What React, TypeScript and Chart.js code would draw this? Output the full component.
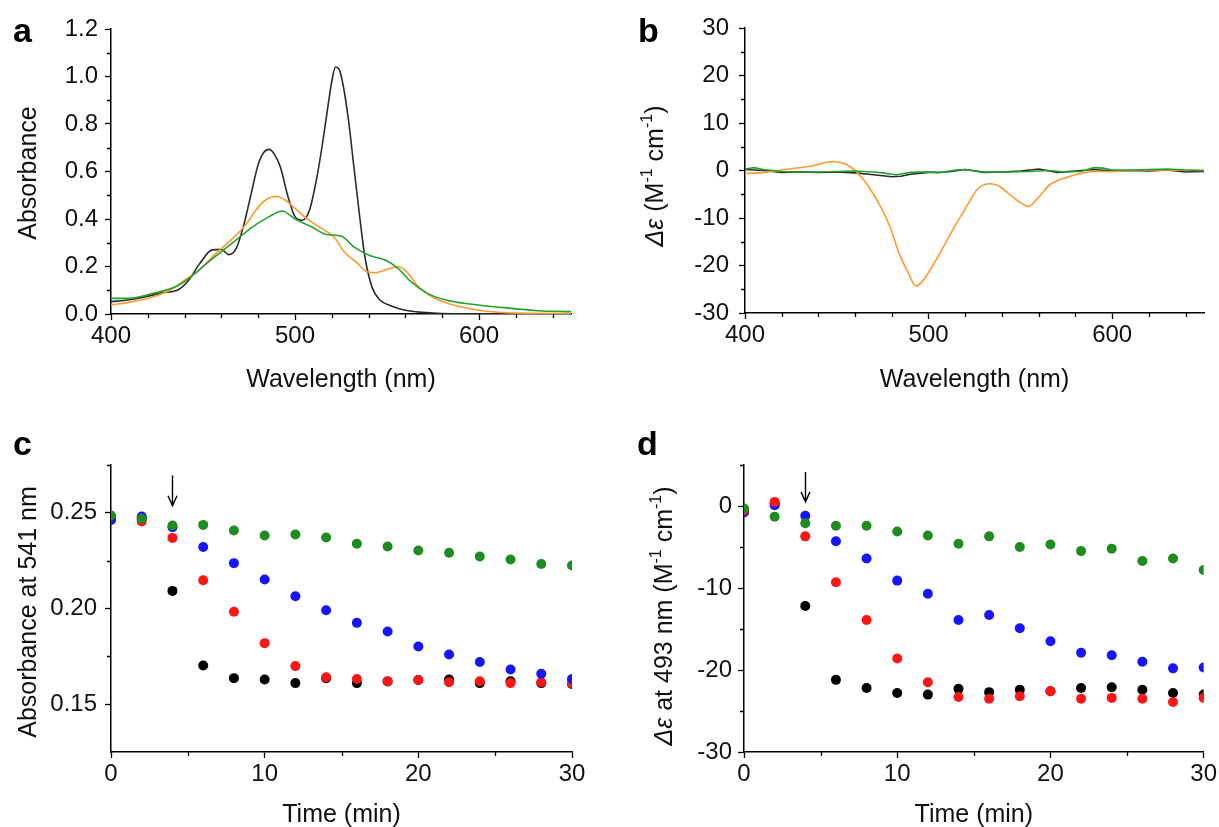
import React, { useEffect, useRef } from 'react';
import { Chart, registerables } from 'chart.js';

Chart.register(...registerables);

const FONT = '"Liberation Sans", Arial, Helvetica, sans-serif';

// ---------- Panel a: absorbance spectra ----------
const aBlackX = [400, 410, 420, 428, 436, 442, 448, 455, 460, 464, 468, 472, 476, 480, 483, 486, 489, 492, 496, 500, 504, 508, 512, 515, 518, 520, 522, 524, 526, 529, 532, 535, 538, 542, 546, 552, 560, 575, 600, 650];
const aBlackY = [0.052, 0.06, 0.075, 0.09, 0.10, 0.14, 0.21, 0.27, 0.272, 0.25, 0.275, 0.37, 0.50, 0.63, 0.68, 0.693, 0.67, 0.62, 0.50, 0.41, 0.395, 0.44, 0.58, 0.72, 0.88, 0.98, 1.04, 1.03, 0.97, 0.82, 0.62, 0.42, 0.24, 0.11, 0.06, 0.035, 0.016, 0.004, 0.0, 0.0];
const aOrangeX = [400, 410, 423, 432, 440, 448, 456, 465, 473, 480, 485, 490, 495, 500, 505, 513, 521, 527, 534, 539, 544, 550, 556, 561, 567, 576, 586, 599, 612, 630, 650];
const aOrangeY = [0.038, 0.05, 0.073, 0.10, 0.143, 0.185, 0.248, 0.31, 0.374, 0.45, 0.485, 0.496, 0.478, 0.445, 0.41, 0.367, 0.325, 0.26, 0.213, 0.178, 0.174, 0.188, 0.199, 0.175, 0.115, 0.066, 0.038, 0.017, 0.006, 0.003, 0.002];
const aGreenX = [400, 410, 423, 436, 444, 452, 461, 469, 477, 486, 493, 500, 509, 517, 525, 532, 540, 549, 556, 563, 572, 582, 595, 612, 632, 650];
const aGreenY = [0.066, 0.066, 0.087, 0.118, 0.16, 0.213, 0.269, 0.318, 0.367, 0.41, 0.434, 0.40, 0.367, 0.335, 0.328, 0.283, 0.248, 0.227, 0.192, 0.136, 0.087, 0.059, 0.042, 0.028, 0.014, 0.01];

// ---------- Panel b: CD spectra ----------
const bOrangeX = [400, 411, 424, 437, 448, 455, 461, 467, 474, 479, 484, 489, 493, 496, 502, 508, 514, 521, 526, 533, 538, 545, 551, 554, 560, 566, 575, 581, 590, 601, 614, 627, 650];
const bOrangeY = [-0.6, -0.4, 0.3, 1.0, 1.9, 1.3, -0.4, -3.2, -7.7, -11.9, -17.5, -21.6, -24.3, -23.6, -20.2, -16.1, -11.9, -7.4, -4.2, -2.8, -3.2, -5.3, -7.0, -7.6, -5.6, -3.0, -1.5, -0.8, -0.2, -0.2, 0.1, 0.1, 0.0];
const bBlackX = [400, 410, 420, 430, 440, 450, 460, 470, 475, 480, 485, 490, 500, 510, 520, 530, 540, 550, 560, 570, 580, 590, 600, 610, 620, 630, 640, 650];
const bBlackY = [0.2, 0.0, -0.4, -0.3, -0.4, -0.3, -0.5, -0.9, -1.1, -1.3, -1.2, -0.8, -0.4, -0.3, 0.2, -0.4, -0.3, -0.1, 0.3, -0.4, -0.1, 0.2, -0.1, 0.0, -0.1, 0.1, -0.3, -0.2];
const bGreenX = [400, 405, 410, 420, 430, 440, 450, 460, 470, 475, 480, 483, 490, 500, 505, 515, 520, 530, 545, 555, 565, 575, 583, 590, 595, 600, 610, 620, 630, 640, 650];
const bGreenY = [0.3, 0.6, 0.2, -0.2, -0.3, -0.3, -0.2, -0.1, -0.3, -0.5, -0.8, -0.9, -0.4, -0.3, -0.5, 0.1, 0.2, -0.3, -0.3, -0.2, 0.0, -0.3, -0.2, 0.6, 0.5, 0.1, 0.1, 0.2, 0.3, 0.1, 0.0];

// ---------- Panels c, d: time courses ----------
const times = [0, 2, 4, 6, 8, 10, 12, 14, 16, 18, 20, 22, 24, 26, 28, 30];
const cGreen = [0.2486, 0.2469, 0.2434, 0.2437, 0.2408, 0.2382, 0.2387, 0.2371, 0.2338, 0.2324, 0.2303, 0.2291, 0.2272, 0.2256, 0.2233, 0.2225];
const cBlue = [0.2463, 0.2481, 0.2425, 0.2321, 0.2237, 0.2152, 0.2064, 0.1991, 0.1925, 0.188, 0.1801, 0.176, 0.172, 0.1681, 0.1659, 0.1632];
const cRed = [0.247, 0.2455, 0.2369, 0.2148, 0.1983, 0.1819, 0.1699, 0.1641, 0.1632, 0.162, 0.1626, 0.1615, 0.162, 0.161, 0.1615, 0.161];
const cBlack = [0.248, 0.247, 0.2092, 0.1702, 0.1636, 0.1629, 0.161, 0.1636, 0.161, 0.1619, 0.1626, 0.1629, 0.161, 0.162, 0.161, 0.1606];
const dGreen = [-0.3, -1.3, -2.1, -2.4, -2.4, -3.1, -3.6, -4.6, -3.7, -5.0, -4.7, -5.5, -5.2, -6.7, -6.4, -7.8];
const dBlue = [-0.8, 0.1, -1.2, -4.3, -6.4, -9.1, -10.7, -13.9, -13.3, -14.9, -16.5, -17.9, -18.2, -19.0, -19.8, -19.7];
const dRed = [-0.5, 0.5, -3.7, -9.3, -13.9, -18.6, -21.5, -23.3, -23.5, -23.2, -22.6, -23.5, -23.4, -23.5, -23.9, -23.4];
const dBlack = [-0.5, 0.3, -12.2, -21.2, -22.2, -22.8, -23.0, -22.3, -22.7, -22.4, -22.6, -22.2, -22.1, -22.4, -22.8, -23.0];

// arrow annotations (data coordinates: x, y-start, y-end)
const cArrow = [4, 0.2695, 0.2537];
const dArrow = [4, 4.15, 0.5];

// ---------- tick values ----------
const wlTicks = [400, 500, 600];
const wlMinor = [420, 440, 460, 480, 520, 540, 560, 580, 620, 640];
const absTicks = [0, 0.2, 0.4, 0.6, 0.8, 1.0, 1.2];
const absMinor = [0.1, 0.3, 0.5, 0.7, 0.9, 1.1];
const cdTicks = [-30, -20, -10, 0, 10, 20, 30];
const cdMinor = [-25, -15, -5, 5, 15, 25];
const timeTicks = [0, 10, 20, 30];
const timeMinor = [5, 15, 25];
const cTicks = [0.15, 0.2, 0.25];
const cMinor = [0.175, 0.225, 0.275];
const dTicks = [-30, -20, -10, 0];
const dMinor = [-25, -15, -5, 5];

const COL_BLACK_LINE = '#2a2a2a';
const COL_ORANGE = '#FF9A2E';
const COL_GREEN_LINE = '#24A22F';
const COL_GREEN_PT = '#1E8C1E';
const COL_BLUE = '#1515FF';
const COL_RED = '#FF1515';
const COL_BLACK_PT = '#000000';

type Seg = { t: string; it?: boolean; sup?: boolean };

const pts = (xs: number[], ys: number[]) => xs.map((x, i) => ({ x, y: ys[i] }));

function drawRich(ctx: CanvasRenderingContext2D, segs: Seg[], size: number, cx: number, cy: number, rotate: boolean) {
  ctx.save();
  ctx.translate(cx, cy);
  if (rotate) ctx.rotate(-Math.PI / 2);
  ctx.textBaseline = 'alphabetic';
  ctx.textAlign = 'left';
  ctx.fillStyle = '#111';
  const fontFor = (s: Seg) => `${s.it ? 'italic ' : ''}${s.sup ? Math.round(size * 0.62) : size}px ${FONT}`;
  let total = 0;
  segs.forEach((s) => {
    ctx.font = fontFor(s);
    total += ctx.measureText(s.t).width;
  });
  let x = -total / 2;
  const base = size * 0.35;
  segs.forEach((s) => {
    ctx.font = fontFor(s);
    ctx.fillText(s.t, x, s.sup ? base - size * 0.42 : base);
    x += ctx.measureText(s.t).width;
  });
  ctx.restore();
}

const minorTickPlugin = {
  id: 'minorTicks',
  afterDraw(chart: any, _args: any, opts: any) {
    const ctx = chart.ctx as CanvasRenderingContext2D;
    const xs = chart.scales.x;
    const ys = chart.scales.y;
    ctx.save();
    ctx.strokeStyle = '#000';
    ctx.lineWidth = 1.3;
    ctx.beginPath();
    (opts.x || []).forEach((v: number) => {
      const px = Math.round(xs.getPixelForValue(v)) + 0.5;
      ctx.moveTo(px, xs.top);
      ctx.lineTo(px, xs.top + 4);
    });
    (opts.y || []).forEach((v: number) => {
      const py = Math.round(ys.getPixelForValue(v)) + 0.5;
      ctx.moveTo(ys.right, py);
      ctx.lineTo(ys.right - 4, py);
    });
    ctx.stroke();
    ctx.restore();
  },
};

const textPlugin = {
  id: 'panelText',
  afterDraw(chart: any, _args: any, opts: any) {
    const ctx = chart.ctx as CanvasRenderingContext2D;
    const area = chart.chartArea;
    ctx.save();
    ctx.fillStyle = '#000';
    ctx.font = `bold 34px ${FONT}`;
    ctx.textBaseline = 'alphabetic';
    ctx.textAlign = 'left';
    ctx.fillText(opts.letter, opts.letterX, opts.letterY);
    ctx.restore();
    drawRich(ctx, opts.xTitle, 25, (area.left + area.right) / 2, opts.xTitleY, false);
    drawRich(ctx, opts.yTitle, 25, opts.yTitleX, opts.yTitleY, true);
  },
};

const arrowPlugin = {
  id: 'arrowMark',
  afterDraw(chart: any, _args: any, opts: any) {
    if (!opts || !opts.a) return;
    const [xv, y0, y1] = opts.a;
    const ctx = chart.ctx as CanvasRenderingContext2D;
    const px = Math.round(chart.scales.x.getPixelForValue(xv)) + 0.5;
    const p0 = chart.scales.y.getPixelForValue(y0);
    const p1 = chart.scales.y.getPixelForValue(y1);
    ctx.save();
    ctx.strokeStyle = '#000';
    ctx.lineWidth = 1.4;
    ctx.beginPath();
    ctx.moveTo(px, p0);
    ctx.lineTo(px, p1);
    ctx.moveTo(px - 4.5, p1 - 10);
    ctx.lineTo(px, p1);
    ctx.lineTo(px + 4.5, p1 - 10);
    ctx.stroke();
    ctx.restore();
  },
};

function axis(min: number, max: number, ticks: number[], fmt: (v: number) => string, isX: boolean, size: number, pad: number) {
  return {
    type: 'linear',
    min,
    max,
    afterBuildTicks: (s: any) => {
      s.ticks = ticks.map((v) => ({ value: v }));
    },
    afterFit: (s: any) => {
      if (isX) s.height = size;
      else s.width = size;
    },
    grid: { display: true, drawOnChartArea: false, drawTicks: true, tickLength: 6, tickColor: '#000', tickWidth: 1.3 },
    border: { display: true, color: '#000', width: 1.5 },
    ticks: {
      color: '#111',
      font: { family: FONT, size: 24 },
      padding: pad,
      maxRotation: 0,
      minRotation: 0,
      autoSkip: false,
      callback: (v: number) => fmt(v),
    },
  };
}

function lineDs(xs: number[], ys: number[], color: string, smooth: boolean) {
  return {
    data: pts(xs, ys),
    showLine: true,
    borderColor: color,
    borderWidth: 1.6,
    pointRadius: 0,
    cubicInterpolationMode: smooth ? 'monotone' : 'default',
    tension: 0,
  };
}

function dotDs(ys: number[], color: string) {
  return {
    data: pts(times, ys),
    showLine: false,
    backgroundColor: color,
    borderColor: color,
    borderWidth: 0,
    pointRadius: 5,
    clip: 0,
  };
}

type PanelDef = {
  left: number;
  top: number;
  width: number;
  height: number;
  area: { left: number; top: number; right: number; bottom: number };
  datasets: any[];
  x: any;
  y: any;
  xMinor: number[];
  yMinor: number[];
  text: any;
  arrow?: number[];
};

function makeConfig(p: PanelDef) {
  return {
    type: 'scatter',
    data: { datasets: p.datasets },
    options: {
      animation: false,
      responsive: false,
      devicePixelRatio: 1,
      events: [],
      layout: { padding: { left: 0, top: p.area.top, right: p.width - p.area.right, bottom: 0 } },
      plugins: {
        legend: { display: false },
        tooltip: { enabled: false },
        minorTicks: { x: p.xMinor, y: p.yMinor },
        panelText: p.text,
        arrowMark: { a: p.arrow },
      },
      scales: { x: p.x, y: p.y },
    },
    plugins: [minorTickPlugin, textPlugin, arrowPlugin],
  };
}

const f1 = (v: number) => v.toFixed(1);
const f2 = (v: number) => v.toFixed(2);
const f0 = (v: number) => String(v);

const wlTitle: Seg[] = [{ t: 'Wavelength (nm)' }];
const timeTitle: Seg[] = [{ t: 'Time (min)' }];

const panels: PanelDef[] = [
  {
    left: 0, top: 0, width: 600, height: 420,
    area: { left: 111, top: 29, right: 571, bottom: 314 },
    datasets: [
      lineDs(aGreenX, aGreenY, COL_GREEN_LINE, true),
      lineDs(aOrangeX, aOrangeY, COL_ORANGE, true),
      lineDs(aBlackX, aBlackY, COL_BLACK_LINE, true),
    ],
    x: axis(400, 650, wlTicks, f0, true, 420 - 314, 2),
    y: axis(0, 1.2, absTicks, f1, false, 111, 7),
    xMinor: wlMinor, yMinor: absMinor,
    text: { letter: 'a', letterX: 13, letterY: 42, xTitle: wlTitle, xTitleY: 378, yTitle: [{ t: 'Absorbance' }], yTitleX: 27, yTitleY: 173 },
  },
  {
    left: 600, top: 0, width: 619, height: 420,
    area: { left: 145, top: 28, right: 604, bottom: 313 },
    datasets: [
      lineDs(bGreenX, bGreenY, COL_GREEN_LINE, false),
      lineDs(bOrangeX, bOrangeY, COL_ORANGE, true),
      lineDs(bBlackX, bBlackY, COL_BLACK_LINE, false),
    ],
    x: axis(400, 650, wlTicks, f0, true, 420 - 313, 2),
    y: axis(-30, 30, cdTicks, f0, false, 145, 10),
    xMinor: wlMinor, yMinor: cdMinor,
    text: {
      letter: 'b', letterX: 38, letterY: 42, xTitle: wlTitle, xTitleY: 378,
      yTitle: [{ t: 'Δε', it: true }, { t: ' (M' }, { t: '-1', sup: true }, { t: ' cm' }, { t: '-1', sup: true }, { t: ')' }],
      yTitleX: 54, yTitleY: 176,
    },
  },
  {
    left: 0, top: 430, width: 600, height: 397,
    area: { left: 111, top: 35, right: 572, bottom: 322 },
    datasets: [dotDs(cGreen, COL_GREEN_PT), dotDs(cBlue, COL_BLUE), dotDs(cRed, COL_RED), dotDs(cBlack, COL_BLACK_PT)],
    x: axis(0, 30, timeTicks, f0, true, 397 - 322, 2),
    y: axis(0.125, 0.275, cTicks, f2, false, 111, 8),
    xMinor: timeMinor, yMinor: cMinor,
    arrow: cArrow,
    text: { letter: 'c', letterX: 13, letterY: 25, xTitle: timeTitle, xTitleY: 383, yTitle: [{ t: 'Absorbance at 541 nm' }], yTitleX: 27, yTitleY: 182 },
  },
  {
    left: 600, top: 430, width: 619, height: 397,
    area: { left: 144, top: 35, right: 605, bottom: 322 },
    datasets: [dotDs(dGreen, COL_GREEN_PT), dotDs(dRed, COL_RED), dotDs(dBlue, COL_BLUE), dotDs(dBlack, COL_BLACK_PT)],
    x: axis(0, 30, timeTicks, f0, true, 397 - 322, 2),
    y: axis(-30, 5, dTicks, f0, false, 144, 6),
    xMinor: timeMinor, yMinor: dMinor,
    arrow: dArrow,
    text: {
      letter: 'd', letterX: 37, letterY: 25, xTitle: timeTitle, xTitleY: 383,
      yTitle: [{ t: 'Δε', it: true }, { t: ' at 493 nm (M' }, { t: '-1', sup: true }, { t: ' cm' }, { t: '-1', sup: true }, { t: ')' }],
      yTitleX: 63, yTitleY: 186,
    },
  },
];

function Panel({ def }: { def: PanelDef }) {
  const ref = useRef<HTMLCanvasElement | null>(null);
  useEffect(() => {
    if (!ref.current) return;
    const chart = new Chart(ref.current, makeConfig(def) as any);
    return () => chart.destroy();
  }, [def]);
  return (
    <canvas
      ref={ref}
      width={def.width}
      height={def.height}
      style={{ position: 'absolute', left: def.left, top: def.top, width: def.width, height: def.height }}
    />
  );
}

export default function App() {
  return (
    <div style={{ position: 'fixed', left: 0, top: 0, width: 1219, height: 827, background: '#ffffff', overflow: 'hidden' }}>
      {panels.map((p, i) => (
        <Panel key={i} def={p} />
      ))}
    </div>
  );
}
